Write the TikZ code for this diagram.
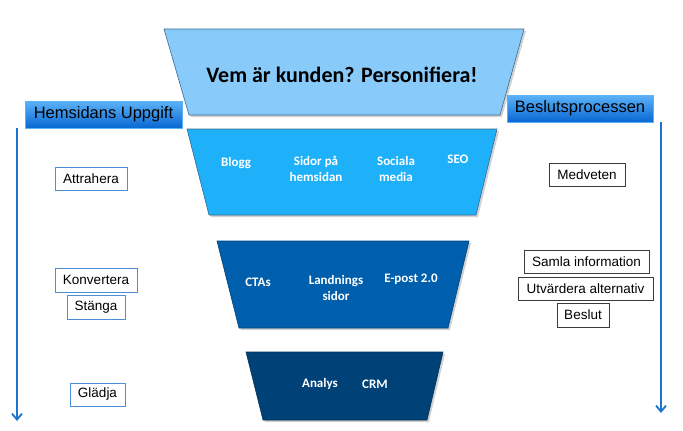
\documentclass[tikz,border=0pt]{standalone}
\usepackage{fontspec}
\setmainfont{Liberation Sans}
\newfontfamily\calfont{Carlito}
\usetikzlibrary{arrows.meta}
\definecolor{tA}{HTML}{88CBFA}
\definecolor{tB}{HTML}{1EB1FA}
\definecolor{tC}{HTML}{005FAC}
\definecolor{tD}{HTML}{004178}
\definecolor{tEdge}{HTML}{3A6A8E}
\definecolor{arrBlue}{HTML}{1C74CC}
\definecolor{hTop}{HTML}{5CB2F7}
\definecolor{hBot}{HTML}{0868D4}
\definecolor{lEdge}{HTML}{4A8FD8}
\definecolor{rEdge}{HTML}{3C3C3C}
\tikzset{
  funnel/.style={draw=tEdge, line width=0.6pt},
  fshadow/.style={fill=black, opacity=0.18},
  ftext/.style={font=\calfont\bfseries\fontsize{13}{16}\selectfont, text=white, align=center, inner sep=0pt},
  hdr/.style={draw=hTop, line width=0.4pt, top color=hTop, bottom color=hBot, minimum height=27pt, inner sep=0pt, font=\fontsize{16.5}{19}\selectfont, text=black},
  lbox/.style={draw=lEdge, line width=0.8pt, fill=white, minimum height=23pt, inner sep=0pt, font=\fontsize{13.5}{16}\selectfont},
  rbox/.style={draw=rEdge, line width=0.8pt, fill=white, minimum height=23pt, inner sep=0pt, font=\fontsize{13.5}{16}\selectfont},
  flow/.style={draw=arrBlue, line width=2pt, -{Straight Barb[length=6pt,width=10pt,line width=1.8pt]}}
}
\begin{document}
\begin{tikzpicture}[x=1pt,y=-1pt]
\useasboundingbox (0,0) rectangle (683,431);
% shadows
\fill[fshadow] (166,31) -- (526,31) -- (502,117) -- (191,117) -- cycle;
\fill[fshadow] (189,131) -- (499,131) -- (478,217) -- (211,217) -- cycle;
\fill[fshadow] (219,243) -- (471,243) -- (450,330) -- (241,330) -- cycle;
\fill[fshadow] (248,354) -- (445,354) -- (429,422) -- (265,422) -- cycle;
% funnel
\filldraw[funnel, fill=tA] (164,29) -- (524,29) -- (500,115) -- (189,115) -- cycle;
\filldraw[funnel, fill=tB] (187,129) -- (497,129) -- (476,215) -- (209,215) -- cycle;
\filldraw[funnel, fill=tC, draw=tC!70!black] (217,241) -- (469,241) -- (448,328) -- (239,328) -- cycle;
\filldraw[funnel, fill=tD, draw=tD!70!black] (246,352) -- (443,352) -- (427,420) -- (263,420) -- cycle;
% funnel texts
\node[font=\calfont\bfseries\fontsize{22}{26}\selectfont, inner sep=0pt] (who) at (342,75) {Vem är kunden? Personifiera!};
\node[ftext] (blogg) at (236,163) {Blogg};
\node[ftext] (sidor) at (316,169) {Sidor på\\hemsidan};
\node[ftext] (social) at (396,169) {Sociala\\media};
\node[ftext] (seo) at (458,159) {SEO};
\node[ftext] (cta) at (258,282) {CTAs};
\node[ftext] (land) at (336,287.5) {Landnings\\sidor};
\node[ftext] (epost) at (411,279) {E-post 2.0};
\node[ftext] (analys) at (320,384) {Analys};
\node[ftext] (crm) at (375,384) {CRM};
% headers
\node[hdr, minimum width=157pt] (hleft) at (103.5,114.5) {Hemsidans Uppgift};
\node[hdr, minimum width=146pt] (hright) at (580,108.5) {Beslutsprocessen};
% arrows
\coordinate (la1) at (17,128);
\coordinate (la2) at (17,421);
\coordinate (ra1) at (661,122);
\coordinate (ra2) at (661,413);
\draw[flow] (la1) -- (la2);
\draw[flow] (ra1) -- (ra2);
% left boxes
\node[lbox, minimum width=72pt] (attr) at (91,178.5) {Attrahera};
\node[lbox, minimum width=82pt, minimum height=24pt] (konv) at (96,280) {Konvertera};
\node[lbox, minimum width=58pt, minimum height=24pt] (stang) at (96,307) {Stänga};
\node[lbox, minimum width=55pt] (gladja) at (97.5,394.5) {Glädja};
% right boxes
\node[rbox, minimum width=76pt] (medv) at (587,174.5) {Medveten};
\node[rbox, minimum width=125pt] (samla) at (586.5,261.5) {Samla information};
\node[rbox, minimum width=135pt] (utv) at (585.5,288.5) {Utvärdera alternativ};
\node[rbox, minimum width=52pt, minimum height=24pt] (beslut) at (583,315) {Beslut};
\end{tikzpicture}
\end{document}
